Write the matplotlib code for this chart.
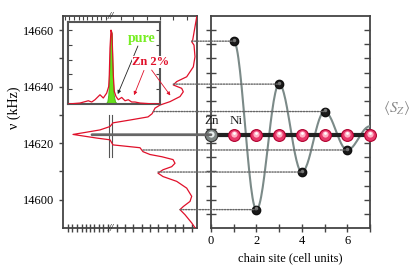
import numpy as np
import matplotlib.pyplot as plt
from matplotlib.patches import ConnectionPatch

plt.rcParams['font.family'] = ['Liberation Serif', 'DejaVu Serif']
plt.rcParams['mathtext.fontset'] = 'stix'

# NMR spectrum (Zn 2%), frequency (kHz) vs intensity (arb.)
spec_f = [14664.7, 14661.2, 14656.5, 14655.9, 14654.7, 14650.6, 14647.0, 14643.5,
          14641.8, 14640.6, 14639.4, 14638.2, 14636.5, 14634.7, 14633.5, 14632.4,
          14631.2, 14630.4, 14629.3, 14628.2, 14627.2, 14625.9, 14624.7, 14623.8,
          14623.1, 14621.8, 14621.2, 14619.4, 14618.4, 14617.0, 14616.0, 14615.2,
          14614.2, 14612.9, 14611.7, 14610.6, 14609.4, 14608.2, 14606.5, 14604.1,
          14601.2, 14599.4, 14597.6, 14596.5, 14594.7, 14591.8, 14590.1]
spec_i = [0.3, 2, 4.3, 5.3, 3, 2, 3.7, 10.3,
          20.3, 23.7, 15.3, 13.7, 17, 27, 37, 42,
          43.7, 45, 49, 67, 84, 87, 97, 112,
          124, 100, 87, 84, 57, 54, 47, 35,
          24, 22, 25.3, 34, 39, 34, 20.3, 10.3,
          5.3, 7, 13.7, 17, 12, 5.3, 2]

# inset spectra
ins_x = [0.3, 12, 20.3, 23.7, 27, 32, 35.3, 38.7, 40.7, 41.3, 42, 43, 44, 44.7, 45.3,
         46.3, 48, 50.3, 53.7, 57, 60.3, 63.7, 67, 72, 82, 92]
ins_zn = [0, 0.013, 0.044, 0.027, 0.058, 0.125, 0.081, 0.148, 0.237, 0.394, 0.754, 1.0,
          0.955, 0.664, 0.394, 0.17, 0.102, 0.058, 0.089, 0.044, 0.058, 0.027, 0.027,
          0.013, 0.004, 0]
pure_x = [37.3, 39.3, 40.3, 41, 41.7, 42.3, 43, 43.7, 44.3, 45, 45.7, 47, 49.3]
pure_y = [0, 0.035, 0.125, 0.304, 0.619, 0.888, 1.0, 0.955, 0.619, 0.304, 0.125, 0.035, 0]

# satellite lines vs chain site
sites = [1, 2, 3, 4, 5, 6]
sat_f = [14656.1, 14596.5, 14640.9, 14609.8, 14631.2, 14617.6]
sat_i = [5.3, 17, 23.7, 39, 43.7, 54]   # matching shoulder in spectrum
curve_sites = [1, 2, 3, 4, 5, 6, 7]
curve_f = [14656.1, 14596.5, 14640.9, 14609.8, 14631.2, 14617.6, 14626.0]
f_chain = 14623.0
ni_sites = [1, 2, 3, 4, 5, 6, 7]

fig = plt.figure(figsize=(4.15, 2.7), dpi=100)
ax1 = fig.add_axes([63/415, 42/270, 134/415, 212/270])
ax2 = fig.add_axes([211/415, 42/270, 159/415, 212/270])
axin = fig.add_axes([68/415, 166/270, 92/415, 82/270])

spc = '#444444'
for a in (ax1, ax2):
    for s in a.spines.values():
        s.set_color(spc)
        s.set_linewidth(1.3)

# ---- left: spectrum
ax1.plot(spec_i, spec_f, color='#e0102a', lw=0.9, zorder=3)
ax1.set_xlim(134, 0)
ax1.set_ylim(14590, 14665)
ax1.set_yticks([14600, 14620, 14640, 14660])
ax1.set_yticks([14610, 14630, 14650], minor=True)
ax1.tick_params(axis='y', which='both', direction='out', length=3, width=1,
                color=spc, labelsize=9, pad=3)
bt = [129, 125, 120, 115, 111, 107, 103, 98, 94, 89, 80, 72, 64, 55, 47, 39, 30, 22, 14, 5]
ax1.set_xticks(bt)
ax1.set_xticklabels([])
ax1.tick_params(axis='x', direction='inout', length=6, width=1, color=spc)
top = ax1.secondary_xaxis('top')
top.set_xticks([132, 128, 123, 118, 114, 110, 105, 100, 96, 91, 76, 64, 50, 37, 24, 10])
top.set_xticklabels([])
top.tick_params(direction='in', length=3, width=0.8, color=spc)
top.spines['top'].set_visible(False)
for yb in (14665, 14590):
    ax1.text(86, yb, '//', fontsize=8, ha='center', va='center', color='#222',
             fontstyle='italic', zorder=6, clip_on=False)
ax1.plot([87.7, 87.7], [14615.2, 14630], color='#555', lw=0.8)
ax1.plot([84.7, 84.7], [14615.2, 14630], color='#555', lw=0.8)
fig.text(14/415, 1 - 108/270, 'ν (kHz)', rotation=90, ha='center', va='center', fontsize=10)

# ---- inset
axin.fill_between(pure_x, pure_y, color='#66e01a', lw=0.6, edgecolor='#44b010', zorder=2)
axin.plot(ins_x, ins_zn, color='#e0102a', lw=0.9, zorder=3)
axin.set_xlim(0, 92)
axin.set_ylim(0, 1.11)
axin.set_xticks([])
axin.set_yticks([0.2, 0.4, 0.6, 0.8, 1.0])
axin.set_yticklabels([])
axin.tick_params(axis='y', direction='in', length=3, color=spc, right=True)
for s in axin.spines.values():
    s.set_color('#555')
    s.set_linewidth(1.5)
axin.text(73.7, 0.89, 'pure', color='#77ee22', fontsize=10, fontweight='bold',
          ha='center', va='center', zorder=5)
axin.annotate('', xy=(48.7, 0.1), xytext=(71, 0.82),
              arrowprops=dict(arrowstyle='-|>', color='#222', lw=0.6,
                              mutation_scale=5))
axin.text(83, 0.57, 'Zn 2%', color='#e0102a', fontsize=9, fontweight='bold',
          ha='center', va='center', zorder=5,
          bbox=dict(facecolor='white', edgecolor='none', pad=0.2))
axin.annotate('', xy=(65, 0.085), xytext=(77, 0.49), annotation_clip=False,
              arrowprops=dict(arrowstyle='-|>', color='#e0102a', lw=0.6,
                              mutation_scale=5))
axin.annotate('', xy=(104, 0.085), xytext=(82, 0.49), annotation_clip=False,
              arrowprops=dict(arrowstyle='-|>', color='#e0102a', lw=0.6,
                              mutation_scale=5))

# ---- right: oscillating polarisation
ax2.set_xlim(0, 7)
ax2.set_ylim(14590, 14665)
ax2.set_xticks(range(8))
ax2.set_xticklabels(['0', '', '2', '', '4', '', '6', ''])
ax2.tick_params(axis='x', direction='inout', length=6, width=1, color=spc,
                labelsize=9, pad=2)
yt = np.arange(14595, 14665, 5)
ax2.set_yticks(yt)
ax2.set_yticklabels([])
ax2.tick_params(axis='y', direction='inout', length=7, width=1, color=spc)
rgt = ax2.secondary_yaxis('right')
rgt.set_yticks(yt)
rgt.set_yticklabels([])
rgt.tick_params(direction='in', length=4, width=1, color=spc)
rgt.spines['right'].set_visible(False)
ax2.set_xlabel('chain site (cell units)', fontsize=9, labelpad=4)

# smooth guide curve through the extrema
cx, cy = [], []
for k in range(len(curve_sites) - 1):
    t = np.linspace(0, 1, 30)
    cx.extend(curve_sites[k] + t)
    cy.extend(curve_f[k] + (curve_f[k + 1] - curve_f[k]) * (1 - np.cos(np.pi * t)) / 2)
ax2.plot(cx, cy, color='#7b8a88', lw=1.5, zorder=3)

# dotted guides from spectrum shoulders to points
for s, f, i in zip(sites, sat_f, sat_i):
    con = ConnectionPatch(xyA=(i, f), coordsA=ax1.transData, xyB=(s, f),
                          coordsB=ax2.transData, color='#666', lw=1,
                          linestyle=(0, (1, 1)), zorder=1)
    fig.add_artist(con)

# chain
fig.add_artist(ConnectionPatch(xyA=(105, f_chain), coordsA=ax1.transData,
                               xyB=(0, f_chain), coordsB=ax2.transData,
                               color='#666', lw=2))
ax2.plot([0, 7], [f_chain, f_chain], color='#222', lw=3, zorder=4, clip_on=False)
ax2.plot([0], [f_chain], 'o', ms=9, mfc='#7e8684', mec='#333', mew=0.8,
         zorder=5, clip_on=False)
ax2.plot([0], [f_chain + 0.4], 'o', ms=4.5, mfc='#e8eeee', mec='none', zorder=6, clip_on=False)
ax2.plot(ni_sites, [f_chain] * len(ni_sites), 'o', ms=8.5, mfc='#e8386a', mec='#b0002e',
         mew=0.8, zorder=5, clip_on=False)
ax2.plot(ni_sites, [f_chain + 0.4] * len(ni_sites), 'o', ms=4.5, mfc='#ffb0c4', mec='none',
         zorder=6, clip_on=False)
ax2.plot(ni_sites, [f_chain + 0.6] * len(ni_sites), 'o', ms=2, mfc='white', mec='none',
         zorder=7, clip_on=False)
ax2.plot(sites, sat_f, 'o', ms=6, mfc='#1a1a1a', mec='#111', zorder=5)
ax2.plot(sites, [f + 0.4 for f in sat_f], 'o', ms=2.5, mfc='#777', mec='none', zorder=6)
ax2.text(0.03, 14628.0, 'Zn', fontsize=9.5, ha='center', va='center', color='#222')
ax2.text(1.1, 14628.0, 'Ni', fontsize=9.5, ha='center', va='center', color='#222')
fig.text(397/415, 1 - 108/270, r'$\langle S_Z\rangle$', fontsize=11, color='#888',
         ha='center', va='center')

fig.savefig('out.png', dpi=100)
